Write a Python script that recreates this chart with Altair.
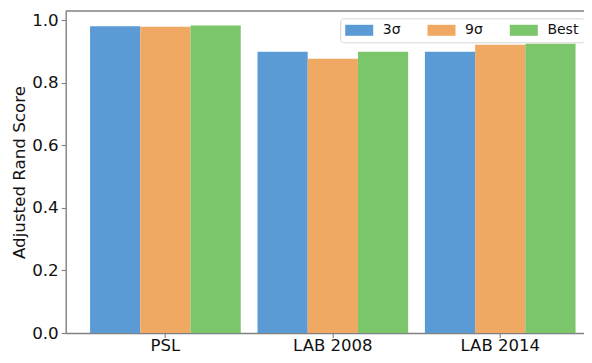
import altair as alt
import pandas as pd

categories = ["PSL", "LAB 2008", "LAB 2014"]
series = ["3σ", "9σ", "Best"]
values_3s = [0.981, 0.900, 0.900]
values_9s = [0.980, 0.877, 0.922]
values_best = [0.984, 0.900, 0.925]
colors = ["#5A9BD6", "#F0A963", "#7BC56B"]
y_ticks = [0.0, 0.2, 0.4, 0.6, 0.8, 1.0]
y_max = 1.03

rows = []
for s, vals in zip(series, [values_3s, values_9s, values_best]):
    for c, v in zip(categories, vals):
        rows.append({"dataset": c, "method": s, "score": v})
df = pd.DataFrame(rows)

FONT = "DejaVu Sans"
AX = "#808080"

y_axis = alt.Axis(title="Adjusted Rand Score", values=y_ticks,
                  format=".1f", grid=False, labelFontSize=16.7,
                  labelColor="#111", labelPadding=3, tickSize=4.5,
                  tickColor=AX, tickWidth=1.1, domainColor=AX,
                  domainWidth=1.4, titleFontSize=16.7,
                  titleFontWeight="normal", titleColor="#111",
                  titlePadding=3.3, labelFont=FONT, titleFont=FONT,
                  orient="left")
y_scale = alt.Scale(domain=[0, y_max], nice=False)

bars = alt.Chart(df).mark_bar(strokeWidth=0).encode(
    x=alt.X("dataset:N", sort=categories,
            scale=alt.Scale(paddingInner=0.1, paddingOuter=0.098, align=0.743),
            axis=alt.Axis(title=None, labelAngle=0, labelFontSize=16.5,
                          labelColor="#111", labelPadding=0, tickSize=4.5,
                          tickColor=AX, tickWidth=1.1, domainColor=AX,
                          domainWidth=1.4, labelFont=FONT)),
    xOffset=alt.XOffset("method:N", sort=series,
                        scale=alt.Scale(paddingInner=0, paddingOuter=0)),
    y=alt.Y("score:Q", scale=y_scale, axis=y_axis),
    color=alt.Color("method:N", sort=series,
                    scale=alt.Scale(domain=series, range=colors),
                    legend=alt.Legend(
                        title=None, orient="none", direction="horizontal",
                        legendX=274.5, legendY=7.3,
                        symbolType="M-2,-0.786H2V0.786H-2Z", symbolSize=196,
                        symbolStrokeWidth=0, symbolOffset=7, labelOffset=16.6,
                        columnPadding=26.3, labelFontSize=14, labelFont=FONT,
                        labelColor="#111", labelLimit=200, padding=5,
                        fillColor="#ffffff", strokeColor="#d6d6d6",
                        cornerRadius=3)),
)

top_spine = alt.Chart(pd.DataFrame({"score": [y_max]})).mark_rule(
    color=AX, strokeWidth=1.4).encode(
    y=alt.Y("score:Q", scale=y_scale, axis=y_axis))

chart = alt.layer(bars, top_spine).properties(
    width=518.3, height=322,
    autosize=alt.AutoSizeParams(type="none"),
    padding={"left": 57.7, "top": 3, "right": 0, "bottom": 22},
).configure_view(stroke="transparent", strokeWidth=0)

chart.save("out.html", embed_options={"renderer": "svg", "actions": False})
